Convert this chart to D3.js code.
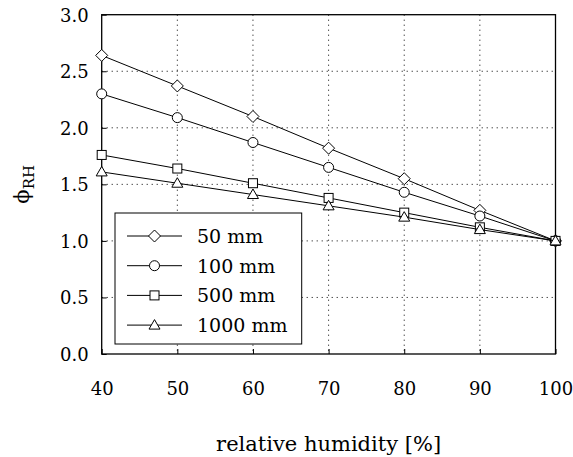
<!DOCTYPE html>
<html>
<head>
<meta charset="utf-8">
<script src="https://cdn.jsdelivr.net/npm/d3@7"></script>
<style>
body { margin: 0; background: #fff; }
</style>
</head>
<body>
<div id="chart"></div>
<script>
// values
var humidity = [40, 50, 60, 70, 80, 90, 100];
var phi50 = [2.64, 2.37, 2.10, 1.82, 1.55, 1.27, 1.0];
var phi100 = [2.30, 2.09, 1.87, 1.65, 1.43, 1.22, 1.0];
var phi500 = [1.76, 1.64, 1.51, 1.38, 1.25, 1.12, 1.0];
var phi1000 = [1.61, 1.51, 1.41, 1.31, 1.21, 1.10, 1.0];
var seriesNames = ["50 mm", "100 mm", "500 mm", "1000 mm"];
var markerTypes = ["diamond", "circle", "square", "triangle"];
var xTicks = [40, 50, 60, 70, 80, 90, 100];
var yTicks = [0.0, 0.5, 1.0, 1.5, 2.0, 2.5, 3.0];

var series = [phi50, phi100, phi500, phi1000];

var serif = "DejaVu Serif";
var w = 573, h = 457;
var pLeft = 101.7, pRight = 555.5, pTop = 14.7, pBottom = 354;

var svg = d3.select("#chart").append("svg")
	.attr("width", w)
	.attr("height", h)
	.attr("font-family", serif);

var x = d3.scaleLinear().domain([40, 100]).range([pLeft, pRight]);
var y = d3.scaleLinear().domain([0, 3]).range([pBottom, pTop]);

// grid
var grid = svg.append("g");
xTicks.slice(1, -1).forEach(function(t) {
	grid.append("line")
		.attr("x1", x(t)).attr("x2", x(t))
		.attr("y1", pTop).attr("y2", pBottom)
		.style("stroke", "#000").style("stroke-width", 1)
		.style("stroke-dasharray", "1,4");
});
yTicks.slice(1, -1).forEach(function(t) {
	grid.append("line")
		.attr("x1", pLeft).attr("x2", pRight)
		.attr("y1", y(t)).attr("y2", y(t))
		.style("stroke", "#000").style("stroke-width", 1)
		.style("stroke-dasharray", "1,4");
});

// axes
var xAxis = svg.append("g")
	.attr("transform", "translate(0," + pBottom + ")")
	.call(d3.axisBottom(x).tickValues(xTicks).tickSizeInner(-5).tickSizeOuter(0).tickPadding(0).tickFormat(d3.format("d")));
xAxis.attr("font-family", serif).attr("font-size", "18px");
xAxis.select(".domain").remove();
xAxis.selectAll("text").attr("y", 41).attr("dy", 0);
xAxis.selectAll("line").style("stroke", "#000");

var yAxis = svg.append("g")
	.attr("transform", "translate(" + pLeft + ",0)")
	.call(d3.axisLeft(y).tickValues(yTicks).tickSizeInner(-5).tickSizeOuter(0).tickFormat(d3.format(".1f")));
yAxis.attr("font-family", serif).attr("font-size", "18px");
yAxis.select(".domain").remove();
yAxis.selectAll("text").attr("x", -13).attr("dy", "0.36em");
yAxis.selectAll("line").style("stroke", "#000");

// frame
svg.append("rect")
	.attr("x", pLeft).attr("y", pTop)
	.attr("width", pRight - pLeft).attr("height", pBottom - pTop)
	.style("fill", "none").style("stroke", "#000").style("stroke-width", 1.3);

function drawMarker(g, type, cx, cy) {
	if (type == "diamond") {
		g.append("path")
			.attr("d", "M" + cx + "," + (cy - 6) + "L" + (cx + 6) + "," + cy + "L" + cx + "," + (cy + 6) + "L" + (cx - 6) + "," + cy + "Z");
	} else if (type == "circle") {
		g.append("circle").attr("cx", cx).attr("cy", cy).attr("r", 5);
	} else if (type == "square") {
		g.append("rect").attr("x", cx - 4.5).attr("y", cy - 4.5).attr("width", 9).attr("height", 9);
	} else {
		g.append("path")
			.attr("d", "M" + cx + "," + (cy - 5.5) + "L" + (cx + 5.5) + "," + (cy + 4) + "L" + (cx - 5.5) + "," + (cy + 4) + "Z");
	}
}

var line = d3.line()
	.x(function(d, i) { return x(humidity[i]); })
	.y(function(d) { return y(d); });

for (var s = 0; s < series.length; s++) {
	var g = svg.append("g");
	g.append("path")
		.datum(series[s])
		.attr("d", line)
		.style("fill", "none").style("stroke", "#000").style("stroke-width", 1);
	var mg = g.append("g").style("fill", "#fff").style("stroke", "#000").style("stroke-width", 1);
	for (var i = 0; i < humidity.length; i++) {
		drawMarker(mg, markerTypes[s], x(humidity[i]), y(series[s][i]));
	}
}

// legend
var lg = svg.append("g");
lg.append("rect")
	.attr("x", 115).attr("y", 213)
	.attr("width", 186.7).attr("height", 131)
	.style("fill", "#fff").style("stroke", "#000").style("stroke-width", 1);
for (var s = 0; s < seriesNames.length; s++) {
	var ly = 236 + s * 29.7;
	lg.append("line")
		.attr("x1", 127).attr("x2", 182)
		.attr("y1", ly).attr("y2", ly)
		.style("stroke", "#000").style("stroke-width", 1);
	var mg = lg.append("g").style("fill", "#fff").style("stroke", "#000").style("stroke-width", 1);
	drawMarker(mg, markerTypes[s], 154.5, ly);
	lg.append("text")
		.attr("x", 197).attr("y", ly + 7)
		.attr("font-size", "19px")
		.text(seriesNames[s]);
}

// axis titles
svg.append("text")
	.attr("x", (pLeft + pRight) / 2).attr("y", 451)
	.attr("text-anchor", "middle").attr("font-size", "21px")
	.text("relative humidity [%]");

var yl = svg.append("text")
	.attr("transform", "translate(29," + ((pTop + pBottom) / 2) + ") rotate(-90)")
	.attr("text-anchor", "middle").attr("font-size", "21px");
yl.append("tspan").text("\u03D5");
yl.append("tspan").attr("dy", 5).attr("font-size", "15px").text("RH");
</script>
</body>
</html>
